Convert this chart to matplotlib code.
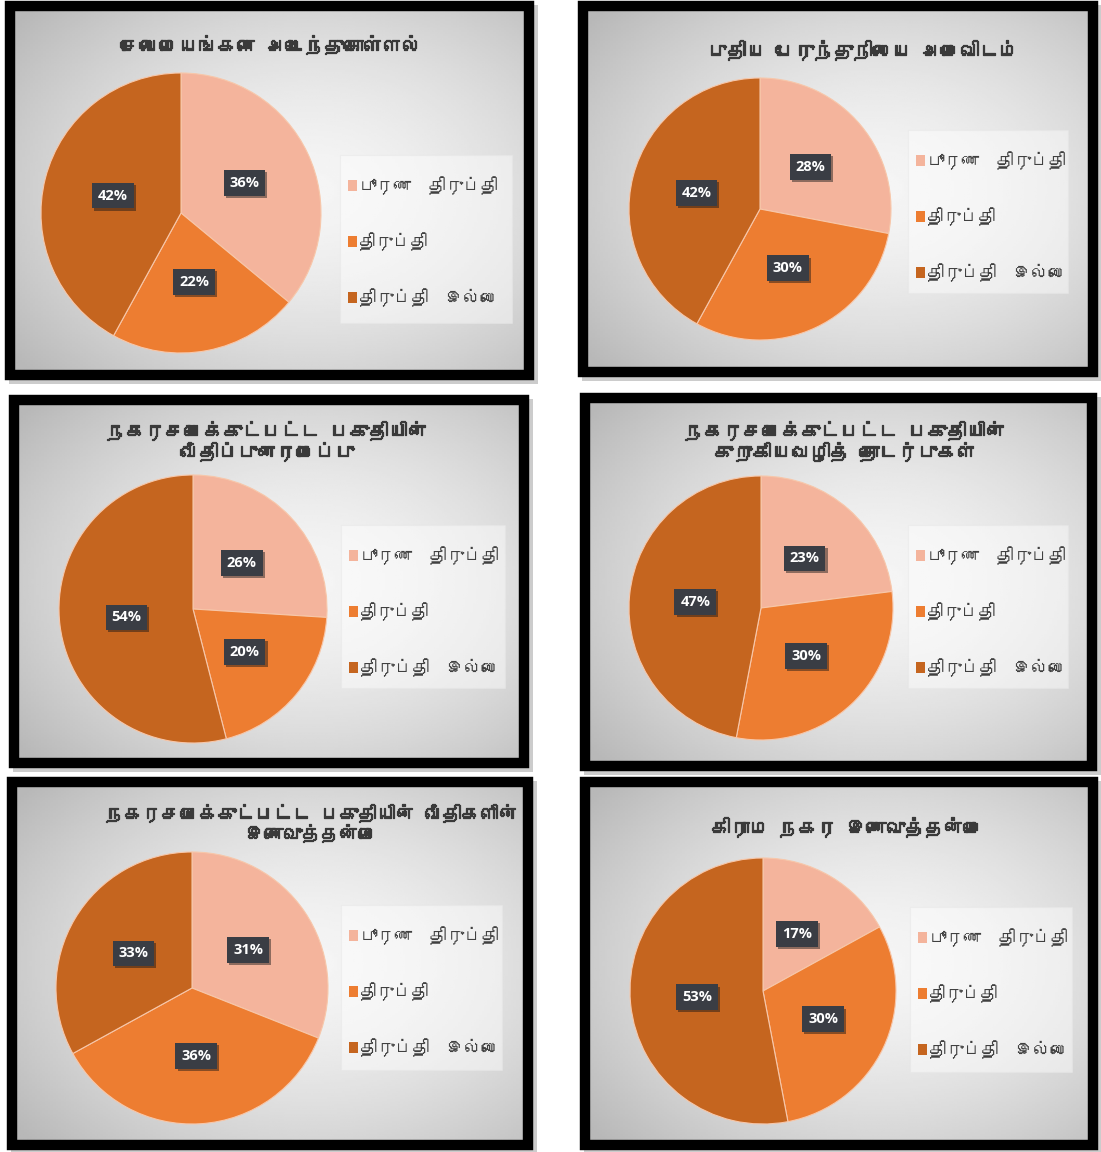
import numpy as np
import matplotlib.pyplot as plt
from matplotlib import font_manager
from matplotlib.patches import Patch, Rectangle
from matplotlib import patheffects as pe

W, H = 1101, 1152

# data
titles = [
    'சேவைமையங்களை அடைந்துகொள்ளல்',
    'புதிய பேருந்துநிலைய அமைவிடம்',
    'நகரசபைக்குட்பட்ட பகுதியின்\nவீதிப்புனரமைப்பு',
    'நகரசபைக்குட்பட்ட பகுதியின்\nகுறுகியவழித் தொடர்புகள்',
    'நகரசபைக்குட்பட்ட பகுதியின் வீதிகளின்\nஇணைவுத்தன்மை',
    'கிராம நகர இணைவுத்தன்மை',
]
legend_labels = ['பூரண  திருப்தி', 'திருப்தி', 'திருப்தி  இல்லை']
full_sat = [36, 28, 26, 23, 31, 17]
sat = [22, 30, 20, 30, 36, 30]
not_sat = [42, 42, 54, 47, 33, 53]
colors = ['#F4B49C', '#ED7D31', '#C5651F']

# layout in pixels (x0, y0, x1, y1) / (cx, cy, r)
frames = [(5, 1, 534, 380), (578, 1, 1098, 377), (9, 395, 529, 768),
          (580, 393, 1097, 771), (7, 777, 533, 1150), (580, 777, 1098, 1150)]
pies = [(181, 213, 140), (760, 209, 131), (193, 609, 134),
        (761, 608, 132), (192, 988, 136), (763, 991, 133)]
title_pos = [(271, 45), (863, 50), (267, 441), (845, 441), (311, 823), (847, 827)]
leg_boxes = [(340, 155, 512, 323), (908, 130, 1068, 293), (341, 525, 505, 688),
             (908, 525, 1068, 688), (341, 905, 502, 1070), (910, 907, 1072, 1072)]


def find_tamil_font():
    try:
        from fontTools.ttLib import TTFont
    except ImportError:
        return None
    for f in font_manager.fontManager.ttflist:
        try:
            cmap = TTFont(f.fname, fontNumber=0, lazy=True).getBestCmap()
            if cmap and 0x0BA4 in cmap:
                return f.name
        except Exception:
            pass
    return None


tamil = find_tamil_font()
fams = ([tamil] if tamil else []) + ['DejaVu Sans']
plt.rcParams['font.family'] = fams


def fx(x):
    return x / W


def fy(y):
    return 1 - y / H


fig = plt.figure(figsize=(W / 100, H / 100), dpi=100)
fig.patch.set_facecolor('white')

# radial grey gradient used behind every chart
gx, gy = np.meshgrid(np.linspace(0, 1, 200), np.linspace(0, 1, 200))
dist = np.sqrt((gx - 0.58) ** 2 + (gy - 0.5) ** 2)
grad = 0.96 - 0.24 * np.clip(dist / 0.72, 0, 1) ** 1.6

for i in range(6):
    x0, y0, x1, y1 = frames[i]
    # shadow
    fig.patches.append(Rectangle((fx(x0 + 4), fy(y1 + 4)), fx(x1 - x0), (y1 - y0) / H,
                                 transform=fig.transFigure, fc='#9a9a9a', ec='none',
                                 alpha=0.5, zorder=0))
    bg = fig.add_axes([fx(x0), fy(y1), fx(x1 - x0), (y1 - y0) / H], zorder=1)
    bg.imshow(grad, extent=[0, 1, 0, 1], aspect='auto', cmap='gray', vmin=0, vmax=1)
    bg.set_axis_off()
    fig.patches.append(Rectangle((fx(x0 + 5), fy(y1 - 5)), fx(x1 - x0 - 10), (y1 - y0 - 10) / H,
                                 transform=fig.transFigure, fill=False, ec='black',
                                 lw=7.5, zorder=5))

    # legend background
    lx0, ly0, lx1, ly1 = leg_boxes[i]
    fig.patches.append(Rectangle((fx(lx0), fy(ly1)), fx(lx1 - lx0), (ly1 - ly0) / H,
                                 transform=fig.transFigure, fc='white', ec='#e6e6e6',
                                 lw=0.8, alpha=0.45, zorder=2))

    cx, cy, r = pies[i]
    ax = fig.add_axes([fx(cx - r), fy(cy + r), fx(2 * r), 2 * r / H], zorder=3)
    vals = [full_sat[i], sat[i], not_sat[i]]
    wedges, _, autotexts = ax.pie(
        vals, colors=colors, startangle=90, counterclock=False,
        autopct=lambda p: f'{p:.0f}%', pctdistance=0.5,
        wedgeprops=dict(edgecolor='#F7C7AA', linewidth=0.8))
    for t in autotexts:
        t.set_color('white')
        t.set_fontsize(10.5)
        t.set_fontweight('bold')
        t.set_family(['Open Sans', 'DejaVu Sans'])
        t.set_bbox(dict(boxstyle='square,pad=0.4', fc='#3A3D44', ec='none'))
        t.get_bbox_patch().set_path_effects(
            [pe.SimplePatchShadow(offset=(1.5, -1.5), alpha=0.45), pe.Normal()])
    ax.set_xlim(-1, 1)
    ax.set_ylim(-1, 1)

    tx, ty = title_pos[i]
    fs = 13.5 if i == 4 else 14
    fig.text(fx(tx), fy(ty), titles[i], ha='center', va='center', fontsize=fs,
             color='#3a3a3a', fontweight='bold', linespacing=1.05, zorder=6,
             path_effects=[pe.withStroke(linewidth=0.9, foreground='#3a3a3a')])

    handles = [Patch(fc=c, ec='none') for c in colors]
    leg = ax.legend(handles, legend_labels, loc='upper left',
                    bbox_to_anchor=(fx(lx0 - 6), fy(ly0 + 7)),
                    bbox_transform=fig.transFigure, frameon=False,
                    fontsize=12.5, labelspacing=2.15, handlelength=0.55,
                    handleheight=0.55, handletextpad=0.1, borderpad=0.3)
    for t in leg.get_texts():
        t.set_color('#404040')

fig.savefig('out.png', dpi=100)
